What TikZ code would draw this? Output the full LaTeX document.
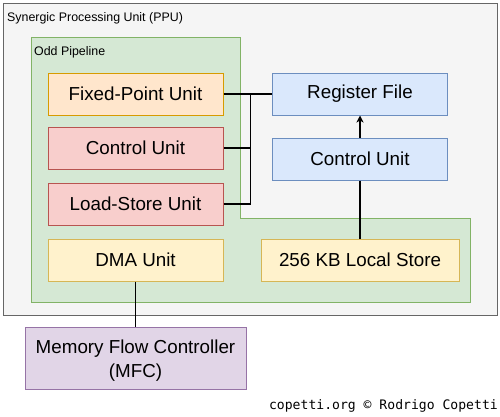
\documentclass[tikz,border=0pt]{standalone}
\usepackage{fontspec}
\setmainfont{Liberation Sans}
\newfontfamily\monofont{DejaVu Sans Mono}
\usetikzlibrary{arrows.meta}
\definecolor{grayfill}{HTML}{F5F5F5}
\definecolor{graydraw}{HTML}{666666}
\definecolor{greenfill}{HTML}{D5E8D4}
\definecolor{greendraw}{HTML}{82B366}
\definecolor{orangefill}{HTML}{FFE6CC}
\definecolor{orangedraw}{HTML}{D79B00}
\definecolor{redfill}{HTML}{F8CECC}
\definecolor{reddraw}{HTML}{B85450}
\definecolor{yellowfill}{HTML}{FFF2CC}
\definecolor{yellowdraw}{HTML}{D6B656}
\definecolor{bluefill}{HTML}{DAE8FC}
\definecolor{bluedraw}{HTML}{6C8EBF}
\definecolor{purplefill}{HTML}{E1D5E7}
\definecolor{purpledraw}{HTML}{9673A6}
\tikzset{
  unitbox/.style={draw, line width=1pt, minimum width=175pt, minimum height=42pt, inner sep=0pt, font=\fontsize{18.8}{24}\selectfont, align=center},
  orangebox/.style={unitbox, fill=orangefill, draw=orangedraw},
  redbox/.style={unitbox, fill=redfill, draw=reddraw},
  yellowbox/.style={unitbox, fill=yellowfill, draw=yellowdraw},
  bluebox/.style={unitbox, fill=bluefill, draw=bluedraw},
  purplebox/.style={unitbox, fill=purplefill, draw=purpledraw},
  conn/.style={line width=1.2pt, draw=black},
  label/.style={inner sep=0pt, font=\fontsize{12.4}{14}\selectfont},
}
\begin{document}
\begin{tikzpicture}[x=1pt,y=-1pt]
\useasboundingbox (0,0) rectangle (500,416);
\fill[white] (0,0) rectangle (500,416);
% outer PPU box
\draw[fill=grayfill, draw=graydraw, line width=1pt] (3,3) rectangle (497,315);
\node[label, anchor=base west] (title) at (7,21.5) {Synergic Processing Unit (PPU)};
% odd pipeline region
\draw[fill=greenfill, draw=greendraw, line width=1pt]
  (31,37) -- (240.5,37) -- (240.5,218) -- (470,218) -- (470,302) -- (31,302) -- cycle;
\node[label, anchor=base west] (odd) at (34,55.5) {Odd Pipeline};
% units
\node[orangebox] (fpu) at (135.5,94) {Fixed-Point Unit};
\node[redbox] (cu1) at (135.5,148) {Control Unit};
\node[redbox] (lsu) at (135.5,204) {Load-Store Unit};
\node[yellowbox] (dma) at (135.5,260) {DMA Unit};
\node[bluebox] (rf) at (360,94) {Register File};
\node[bluebox] (cu2) at (360,159) {Control Unit};
\node[yellowbox, minimum width=198pt] (ls) at (360,260) {256 KB Local Store};
\node[purplebox, minimum width=221pt, minimum height=62pt] (mfc) at (135.5,358) {\raisebox{-2.5pt}[\height][\depth]{\parbox{210pt}{\centering Memory Flow Controller\\(MFC)}}};
% connectors
\coordinate (jt) at (250.5,94);
\coordinate (jm) at (250.5,148);
\coordinate (jb) at (250.5,204);
\draw[conn] (fpu.east) -- (rf.west);
\draw[conn] (jt) -- (jb);
\draw[conn] (cu1.east) -- (jm);
\draw[conn] (lsu.east) -- (jb);
\draw[conn, -{Stealth[length=7pt,width=7pt,inset=2pt]}] (cu2.north) -- (rf.south);
\draw[conn] (cu2.south) -- (ls.north);
\draw[conn] (dma.south) -- (mfc.north);
% credit
\node[inner sep=0pt, anchor=base east, font=\monofont\fontsize{13.1}{15}\selectfont] (credit) at (498,409) {copetti.org © Rodrigo Copetti};
\end{tikzpicture}
\end{document}
